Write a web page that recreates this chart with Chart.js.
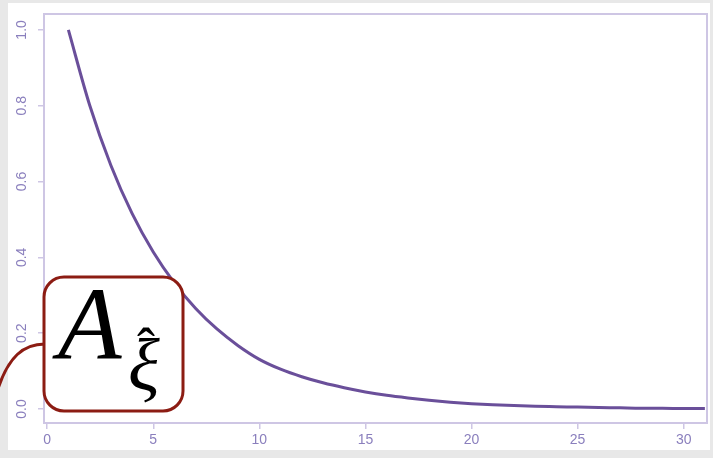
<!DOCTYPE html>
<html>
<head>
<meta charset="utf-8">
<script src="https://cdn.jsdelivr.net/npm/chart.js@4"></script>
<style>
  html, body { margin: 0; padding: 0; background: #e8e8e8; }
  #wrap { width: 713px; height: 458px; }
</style>
</head>
<body>
<div id="wrap"><canvas id="c" width="713" height="458"></canvas></div>
<script>
// Lag values and the decaying curve read at each lag
const lags = [1, 2, 3, 4, 5, 6, 7, 8, 9, 10, 11, 12, 13, 14, 15, 16, 17, 18, 19, 20,
              21, 22, 23, 24, 25, 26, 27, 28, 29, 30, 31];
const curveValues = [1.000, 0.802, 0.643, 0.516, 0.414, 0.332, 0.265, 0.211, 0.167, 0.131,
                     0.105, 0.085, 0.069, 0.056, 0.045, 0.036, 0.029, 0.023, 0.018, 0.014,
                     0.011, 0.009, 0.007, 0.006, 0.005, 0.004, 0.003, 0.002, 0.002, 0.001, 0.001];
const xTickValues = [0, 5, 10, 15, 20, 25, 30];
const yTickValues = [0.0, 0.2, 0.4, 0.6, 0.8, 1.0];
const yTickLabels = ['0.0', '0.2', '0.4', '0.6', '0.8', '1.0'];
const annotationMain = 'A';
const annotationSub = 'ξ';
const annotationHat = 'ˆ';

const axisColor = '#cec6e4';
const tickTextColor = '#8a7fbd';
const lineColor = '#6a4f9a';
const boxColor = '#8c1c13';

const points = lags.map((x, i) => ({ x: x, y: curveValues[i] }));

const framePlugin = {
  id: 'frame',
  beforeDraw(chart) {
    const ctx = chart.ctx;
    ctx.save();
    ctx.fillStyle = '#e8e8e8';
    ctx.fillRect(0, 0, chart.width, chart.height);
    ctx.fillStyle = '#ffffff';
    ctx.fillRect(8, 3, 702, 447);
    ctx.restore();
  },
  afterDraw(chart) {
    const ctx = chart.ctx;
    const a = chart.chartArea;
    const ys = chart.scales.y;
    ctx.save();
    // plot box
    ctx.strokeStyle = axisColor;
    ctx.lineWidth = 2;
    ctx.strokeRect(a.left, a.top, a.right - a.left, a.bottom - a.top);

    // y labels written along the axis
    ctx.fillStyle = tickTextColor;
    ctx.font = '14px "Liberation Sans", Arial, sans-serif';
    ctx.textAlign = 'center';
    ctx.textBaseline = 'middle';
    yTickValues.forEach((v, i) => {
      const py = ys.getPixelForValue(v);
      ctx.save();
      ctx.translate(22, py);
      ctx.rotate(-Math.PI / 2);
      ctx.fillText(yTickLabels[i], 0, 0);
      ctx.restore();
    });

    // connector running off to the left
    ctx.strokeStyle = boxColor;
    ctx.lineWidth = 3;
    ctx.beginPath();
    ctx.moveTo(45, 344);
    ctx.bezierCurveTo(24, 344, 8, 356, -3, 392);
    ctx.stroke();

    // annotation box
    const bx = 44, by = 277, bw = 139, bh = 134, r = 20;
    ctx.beginPath();
    ctx.roundRect(bx, by, bw, bh, r);
    ctx.fillStyle = '#ffffff';
    ctx.fill();
    ctx.lineWidth = 3;
    ctx.strokeStyle = boxColor;
    ctx.stroke();

    // A with hatted xi subscript
    ctx.fillStyle = '#000000';
    ctx.textAlign = 'left';
    ctx.textBaseline = 'alphabetic';
    ctx.font = 'italic 104px "Liberation Serif", "DejaVu Serif", serif';
    ctx.fillText(annotationMain, 58, 359);
    ctx.font = 'italic 74px "Liberation Serif", "DejaVu Serif", serif';
    ctx.fillText(annotationSub, 128, 390);
    ctx.font = '54px "Liberation Serif", "DejaVu Serif", serif';
    ctx.fillText(annotationHat, 137, 366);
    ctx.restore();
  }
};

new Chart(document.getElementById('c'), {
  type: 'line',
  data: {
    datasets: [{
      data: points,
      borderColor: lineColor,
      borderWidth: 3,
      pointRadius: 0,
      fill: false,
      cubicInterpolationMode: 'monotone'
    }]
  },
  options: {
    responsive: false,
    animation: false,
    layout: { padding: { top: 14, right: 6, left: 0, bottom: 0 } },
    plugins: { legend: { display: false }, tooltip: { enabled: false } },
    scales: {
      x: {
        type: 'linear',
        min: -0.15,
        max: 31.1,
        afterBuildTicks(scale) { scale.ticks = xTickValues.map(v => ({ value: v })); },
        afterFit(scale) { scale.height = 35; },
        border: { display: false },
        grid: { drawOnChartArea: false, drawTicks: true, tickLength: 6, color: axisColor, lineWidth: 1.5 },
        ticks: {
          color: tickTextColor,
          padding: 3,
          maxRotation: 0,
          autoSkip: false,
          font: { family: '"Liberation Sans", Arial, sans-serif', size: 14 },
          callback: v => String(v)
        }
      },
      y: {
        type: 'linear',
        min: -0.037,
        max: 1.042,
        afterBuildTicks(scale) { scale.ticks = yTickValues.map(v => ({ value: v })); },
        afterFit(scale) { scale.width = 44; },
        border: { display: false },
        grid: { drawOnChartArea: false, drawTicks: true, tickLength: 6, color: axisColor, lineWidth: 1.5 },
        ticks: { callback: () => '' }
      }
    }
  },
  plugins: [framePlugin]
});
</script>
</body>
</html>
